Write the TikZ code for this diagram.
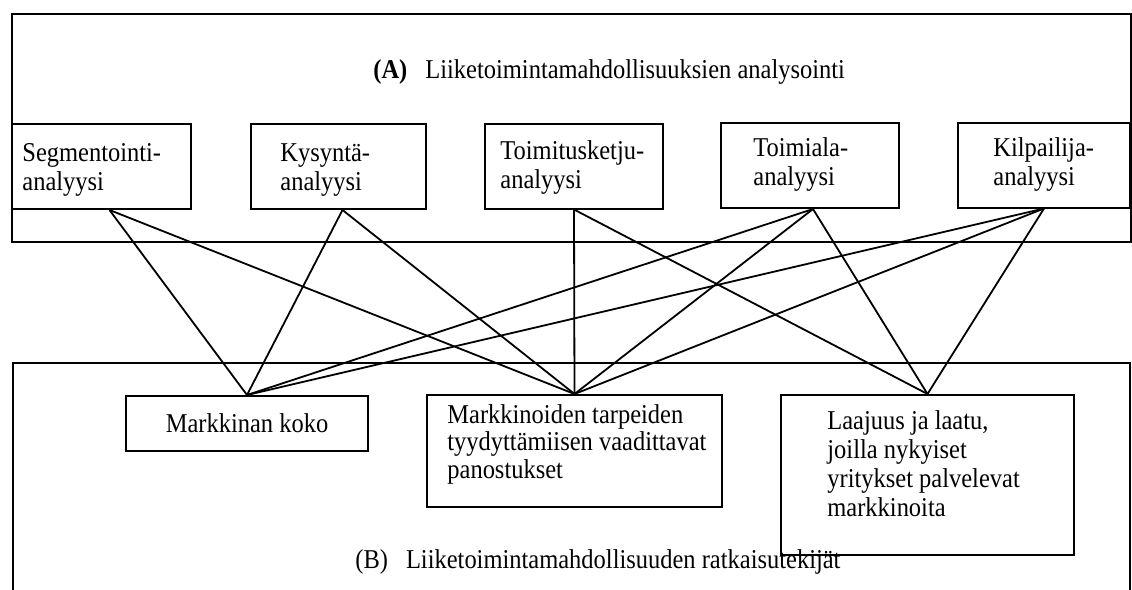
\documentclass[tikz,border=0pt]{standalone}
\usepackage{fontspec}
\setmainfont{Liberation Serif}[FakeStretch=0.9]
\usepackage{tikz}

\begin{document}
\begin{tikzpicture}[x=0.5pt,y=-0.5pt,
        box/.style={draw, line width=1pt, inner sep=0pt},
        txt/.style={align=left, inner sep=0pt},
        link/.style={line width=0.9pt},
        font=\fontsize{13.6}{14.5}\selectfont]
        \useasboundingbox (0,0) rectangle (1132,590);
        \draw[line width=1pt] (12,14) rectangle (1131,242);
        \draw[line width=1pt] (13,600)--(13,363)--(1130,363)--(1130,600);
        \node[anchor=west, inner sep=0pt] (titleA) at (373,72) {\textbf{(A)}\hspace{9pt}Liiketoimintamahdollisuuksien analysointi};
        \node[anchor=west, inner sep=0pt] (titleB) at (355,562) {(B)\hspace{9pt}Liiketoimintamahdollisuuden ratkaisutekijät};
        \node[box, minimum width=89.5pt, minimum height=42.5pt] (seg) at (101.5,166.5) {};
        \node[box, minimum width=87.5pt, minimum height=42.5pt] (kys) at (338.5,166.5) {};
        \node[box, minimum width=89pt, minimum height=42.5pt] (toim) at (574,166) {};
        \node[box, minimum width=89pt, minimum height=42.5pt] (tala) at (810,165.5) {};
        \node[box, minimum width=86pt, minimum height=42.5pt] (kilp) at (1044,165) {};
        \node[txt, anchor=west] (segtext) at (22,170) {Segmentointi-\\analyysi};
        \node[txt, anchor=west] (kystext) at (280,170) {Kysyntä-\\analyysi};
        \node[txt, anchor=west] (toimtext) at (500,167) {Toimitusketju-\\analyysi};
        \node[txt, anchor=west] (talatext) at (753,164) {Toimiala-\\analyysi};
        \node[txt, anchor=west] (kilptext) at (993,164) {Kilpailija-\\analyysi};
        \node[box, minimum width=121pt, minimum height=27.5pt] (koko) at (247,423.5) {Markkinan koko};
        \node[box, minimum width=147.5pt, minimum height=56pt] (tarp) at (574.5,451) {};
        \node[box, minimum width=146.5pt, minimum height=80pt] (laaj) at (927.5,475) {};
        \node[txt, anchor=north west, font=\fontsize{13.6}{13.8}\selectfont] (tarptext) at (447,404) {Markkinoiden tarpeiden\\tyydyttämiisen vaadittavat\\panostukset};
        \node[txt, anchor=north west] (laajtext) at (827,410) {Laajuus ja laatu,\\joilla nykyiset\\yritykset palvelevat\\markkinoita};
        \draw[link] ([xshift=4pt]seg.south)--(koko.north);
        \draw[link] ([xshift=4pt]seg.south)--(tarp.north);
        \draw[link] ([xshift=2pt]kys.south)--(koko.north);
        \draw[link] ([xshift=2pt]kys.south)--(tarp.north);
        \draw[link] (toim.south)--(tarp.north);
        \draw[link] (toim.south)--(laaj.north);
        \draw[link] ([xshift=1.5pt]tala.south)--(koko.north);
        \draw[link] ([xshift=1.5pt]tala.south)--(tarp.north);
        \draw[link] ([xshift=1.5pt]tala.south)--(laaj.north);
        \draw[link] (kilp.south)--(koko.north);
        \draw[link] (kilp.south)--(tarp.north);
        \draw[link] (kilp.south)--(laaj.north);
    \end{tikzpicture}
\end{document}
